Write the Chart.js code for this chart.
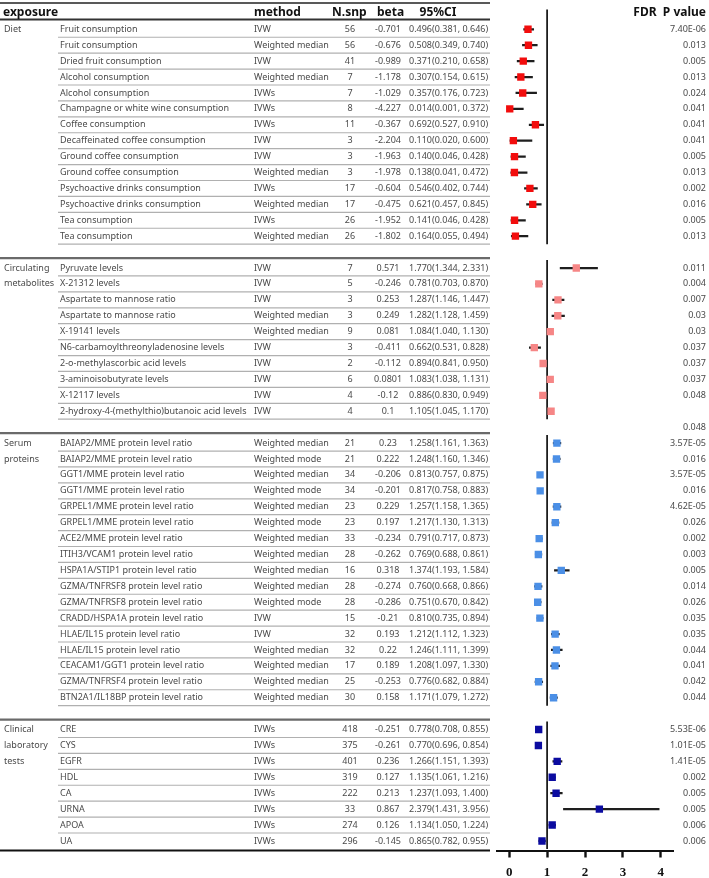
<!DOCTYPE html>
<html>
<head>
<meta charset="utf-8">
<title>MR forest plot</title>
<script src="https://cdn.jsdelivr.net/npm/chart.js@4.4.1/dist/chart.umd.min.js"></script>
<style>
    html, body { margin: 0; padding: 0; background: #fff; }
    #wrap { width: 709px; height: 878px; }
</style>
</head>
<body>
<div id="wrap"><canvas id="forest" width="709" height="878"></canvas></div>
<script>
(function () {
    'use strict';

    // --- data -------------------------------------------------------------
    var groupLabels = [['Diet'], ['Circulating', 'metabolites'], ['Serum', 'proteins'], ['Clinical', 'laboratory', 'tests']];
    var groupSizes = [14, 10, 17, 8];

    var exposures = [
        'Fruit consumption', 'Fruit consumption', 'Dried fruit consumption', 'Alcohol consumption',
        'Alcohol consumption', 'Champagne or white wine consumption', 'Coffee consumption',
        'Decaffeinated coffee consumption', 'Ground coffee consumption', 'Ground coffee consumption',
        'Psychoactive drinks consumption', 'Psychoactive drinks consumption', 'Tea consumption', 'Tea consumption',
        'Pyruvate levels', 'X-21312 levels', 'Aspartate to mannose ratio', 'Aspartate to mannose ratio',
        'X-19141 levels', 'N6-carbamoylthreonyladenosine levels', '2-o-methylascorbic acid levels',
        '3-aminoisobutyrate levels', 'X-12117 levels', '2-hydroxy-4-(methylthio)butanoic acid levels',
        'BAIAP2/MME protein level ratio', 'BAIAP2/MME protein level ratio', 'GGT1/MME protein level ratio',
        'GGT1/MME protein level ratio', 'GRPEL1/MME protein level ratio', 'GRPEL1/MME protein level ratio',
        'ACE2/MME protein level ratio', 'ITIH3/VCAM1 protein level ratio', 'HSPA1A/STIP1 protein level ratio',
        'GZMA/TNFRSF8 protein level ratio', 'GZMA/TNFRSF8 protein level ratio', 'CRADD/HSPA1A protein level ratio',
        'HLAE/IL15 protein level ratio', 'HLAE/IL15 protein level ratio', 'CEACAM1/GGT1 protein level ratio',
        'GZMA/TNFRSF4 protein level ratio', 'BTN2A1/IL18BP protein level ratio',
        'CRE', 'CYS', 'EGFR', 'HDL', 'CA', 'URNA', 'APOA', 'UA'
    ];
    var methods = [
        'IVW', 'Weighted median', 'IVW', 'Weighted median', 'IVWs', 'IVWs', 'IVWs', 'IVW', 'IVW',
        'Weighted median', 'IVWs', 'Weighted median', 'IVWs', 'Weighted median',
        'IVW', 'IVW', 'IVW', 'Weighted median', 'Weighted median', 'IVW', 'IVW', 'IVW', 'IVW', 'IVW',
        'Weighted median', 'Weighted mode', 'Weighted median', 'Weighted mode', 'Weighted median',
        'Weighted mode', 'Weighted median', 'Weighted median', 'Weighted median', 'Weighted median',
        'Weighted mode', 'IVW', 'IVW', 'Weighted median', 'Weighted median', 'Weighted median', 'Weighted median',
        'IVWs', 'IVWs', 'IVWs', 'IVWs', 'IVWs', 'IVWs', 'IVWs', 'IVWs'
    ];
    var nSnp = [
        56, 56, 41, 7, 7, 8, 11, 3, 3, 3, 17, 17, 26, 26,
        7, 5, 3, 3, 9, 3, 2, 6, 4, 4,
        21, 21, 34, 34, 23, 23, 33, 28, 16, 28, 28, 15, 32, 32, 17, 25, 30,
        418, 375, 401, 319, 222, 33, 274, 296
    ];
    var betas = [
        -0.701, -0.676, -0.989, -1.178, -1.029, -4.227, -0.367, -2.204, -1.963, -1.978, -0.604, -0.475, -1.952, -1.802,
        0.571, -0.246, 0.253, 0.249, 0.081, -0.411, -0.112, 0.0801, -0.12, 0.1,
        0.23, 0.222, -0.206, -0.201, 0.229, 0.197, -0.234, -0.262, 0.318, -0.274, -0.286, -0.21, 0.193, 0.22, 0.189, -0.253, 0.158,
        -0.251, -0.261, 0.236, 0.127, 0.213, 0.867, 0.126, -0.145
    ];
    var oddsRatios = [
        0.496, 0.508, 0.371, 0.307, 0.357, 0.014, 0.692, 0.110, 0.140, 0.138, 0.546, 0.621, 0.141, 0.164,
        1.770, 0.781, 1.287, 1.282, 1.084, 0.662, 0.894, 1.083, 0.886, 1.105,
        1.258, 1.248, 0.813, 0.817, 1.257, 1.217, 0.791, 0.769, 1.374, 0.760, 0.751, 0.810, 1.212, 1.246, 1.208, 0.776, 1.171,
        0.778, 0.770, 1.266, 1.135, 1.237, 2.379, 1.134, 0.865
    ];
    var ciLow = [
        0.381, 0.349, 0.210, 0.154, 0.176, 0.001, 0.527, 0.020, 0.046, 0.041, 0.402, 0.457, 0.046, 0.055,
        1.344, 0.703, 1.146, 1.128, 1.040, 0.531, 0.841, 1.038, 0.830, 1.045,
        1.161, 1.160, 0.757, 0.758, 1.158, 1.130, 0.717, 0.688, 1.193, 0.668, 0.670, 0.735, 1.112, 1.111, 1.097, 0.682, 1.079,
        0.708, 0.696, 1.151, 1.061, 1.093, 1.431, 1.050, 0.782
    ];
    var ciHigh = [
        0.646, 0.740, 0.658, 0.615, 0.723, 0.372, 0.910, 0.600, 0.428, 0.472, 0.744, 0.845, 0.428, 0.494,
        2.331, 0.870, 1.447, 1.459, 1.130, 0.828, 0.950, 1.131, 0.949, 1.170,
        1.363, 1.346, 0.875, 0.883, 1.365, 1.313, 0.873, 0.861, 1.584, 0.866, 0.842, 0.894, 1.323, 1.399, 1.330, 0.884, 1.272,
        0.855, 0.854, 1.393, 1.216, 1.400, 3.956, 1.224, 0.955
    ];
    // FDR column, one entry per displayed line (gap lines included, as printed)
    var fdrText = [
        '7.40E-06', '0.013', '0.005', '0.013', '0.024', '0.041', '0.041', '0.041', '0.005', '0.013', '0.002', '0.016', '0.005', '0.013',
        '',
        '0.011', '0.004', '0.007', '0.03', '0.03', '0.037', '0.037', '0.037', '0.048', '',
        '0.048',
        '3.57E-05', '0.016', '3.57E-05', '0.016', '4.62E-05', '0.026', '0.002', '0.003', '0.005', '0.014', '0.026',
        '0.035', '0.035', '0.044', '0.041', '0.042', '0.044',
        '',
        '5.53E-06', '1.01E-05', '1.41E-05', '0.002', '0.005', '0.005', '0.006', '0.006'
    ];
    var xTicks = [0, 1, 2, 3, 4];

    var groupColors = ['#f20d0d', '#f68686', '#4b8fe6', '#0b0ba0'];

    // --- layout rows: one gap line between groups -----------------------------
    var rows = [];       // {data index, group, line}
    var groupRange = []; // first/last line of each group
    var line = 0, k = 0;
    groupSizes.forEach(function (n, g) {
        if (g > 0) line++;
        groupRange.push({ first: line, last: line + n - 1 });
        for (var i = 0; i < n; i++) {
            rows.push({ idx: k, group: g, line: line });
            k++; line++;
        }
    });

    var ciBars = rows.map(function (r) {
        return { y: r.line, x: [ciLow[r.idx], ciHigh[r.idx]] };
    });
    var points = rows.map(function (r) {
        return { y: r.line, x: oddsRatios[r.idx] };
    });
    var pointColors = rows.map(function (r) { return groupColors[r.group]; });

    var refDatasets = groupRange.map(function (gr, g) {
        return {
            type: 'line',
            data: [{ x: 1, y: g === 0 ? -1.25 : gr.first - 0.5 }, { x: 1, y: gr.last + 0.5 }],
            borderColor: '#111',
            borderWidth: 1.7,
            pointRadius: 0,
            order: 3
        };
    });

    // --- table drawn alongside the plot, rows taken from the y scale ---------
    var tablePlugin = {
        id: 'forestTable',
        afterDraw: function (chart) {
            var ctx = chart.ctx;
            var ys = chart.scales.y;
            var lineEnd = 490;
            ctx.save();

            function hline(y, x0, x1, color, w) {
                ctx.beginPath();
                ctx.strokeStyle = color;
                ctx.lineWidth = w;
                ctx.moveTo(x0, y);
                ctx.lineTo(x1, y);
                ctx.stroke();
            }

            // header
            var hy = ys.getPixelForValue(-1.07);
            hline(3, 0, lineEnd, '#222', 1.4);
            hline(ys.getPixelForValue(-0.62), 0, lineEnd, '#333', 2);
            ctx.fillStyle = '#111';
            ctx.font = 'bold 12px "Noto Sans"';
            ctx.textBaseline = 'middle';
            ctx.textAlign = 'left';
            ctx.fillText('exposure', 3, hy);
            ctx.fillText('method', 254, hy);
            ctx.fillText('N.snp', 332, hy);
            ctx.fillText('beta', 377, hy);
            ctx.textAlign = 'center';
            ctx.fillText('95%CI', 438, hy);
            ctx.textAlign = 'right';
            ctx.fillText('FDR  P value', 706, hy);

            // group top rules
            groupRange.forEach(function (gr, g) {
                if (g > 0) hline(ys.getPixelForValue(gr.first - 0.62), 0, lineEnd, '#6a6a6a', 2.2);
            });

            ctx.font = '9px "Noto Sans"';
            ctx.fillStyle = '#4a4a4a';
            rows.forEach(function (r, n) {
                var y = ys.getPixelForValue(r.line);
                var i = r.idx;
                var last = n === rows.length - 1;
                if (!last) hline(ys.getPixelForValue(r.line + 0.5), 58, lineEnd, '#b0b0b0', 1.2);
                ctx.textAlign = 'left';
                ctx.fillText(exposures[i], 60, y);
                ctx.fillText(methods[i], 254, y);
                ctx.fillText(oddsRatios[i].toFixed(3) + '(' + ciLow[i].toFixed(3) + ', ' + ciHigh[i].toFixed(3) + ')', 409, y);
                ctx.textAlign = 'center';
                ctx.fillText(String(nSnp[i]), 350, y);
                ctx.fillText(String(betas[i]), 388, y);
            });

            // group names
            ctx.textAlign = 'left';
            groupRange.forEach(function (gr, g) {
                groupLabels[g].forEach(function (txt, j) {
                    ctx.fillText(txt, 4, ys.getPixelForValue(gr.first + j));
                });
            });

            // FDR column
            ctx.textAlign = 'right';
            fdrText.forEach(function (txt, ln) {
                if (txt) ctx.fillText(txt, 706, ys.getPixelForValue(ln));
            });

            // bottom rule of the table
            hline(chart.chartArea.bottom, 0, lineEnd, '#111', 2.2);
            ctx.restore();
        }
    };

    new Chart(document.getElementById('forest').getContext('2d'), {
        type: 'bar',
        data: {
            datasets: [
                {
                    type: 'line',
                    data: points,
                    showLine: false,
                    pointStyle: 'rect',
                    pointRadius: 5.2,
                    pointBorderWidth: 0,
                    pointBackgroundColor: pointColors,
                    pointBorderColor: pointColors,
                    order: 1
                },
                {
                    data: ciBars,
                    backgroundColor: '#1e1e1e',
                    borderWidth: 0,
                    barThickness: 1.6,
                    grouped: false,
                    order: 2
                }
            ].concat(refDatasets)
        },
        options: {
            indexAxis: 'y',
            responsive: false,
            animation: false,
            devicePixelRatio: 1,
            layout: { padding: { left: 496.7, right: 35.7, top: 8.6, bottom: 0 } },
            plugins: {
                legend: { display: false },
                tooltip: { enabled: false }
            },
            scales: {
                y: {
                    type: 'linear',
                    display: false,
                    offset: false,
                    reverse: true,
                    min: -1.3,
                    max: 51.6
                },
                x: {
                    type: 'linear',
                    min: -0.33,
                    max: 4.33,
                    afterBuildTicks: function (axis) {
                        axis.ticks = xTicks.map(function (v) { return { value: v }; });
                    },
                    afterFit: function (axis) {
                        // the tick padding is counted twice by default; keep the axis band tight
                        axis.height = 27.5;
                    },
                    grid: {
                        drawOnChartArea: false,
                        drawTicks: true,
                        tickLength: 7,
                        tickWidth: 2.4,
                        tickColor: '#111'
                    },
                    border: { display: true, color: '#111', width: 2 },
                    ticks: {
                        padding: 7,
                        color: '#111',
                        font: { family: 'Liberation Serif', size: 13, weight: 'bold' }
                    }
                }
            }
        },
        plugins: [tablePlugin]
    });
})();
</script>
</body>
</html>
